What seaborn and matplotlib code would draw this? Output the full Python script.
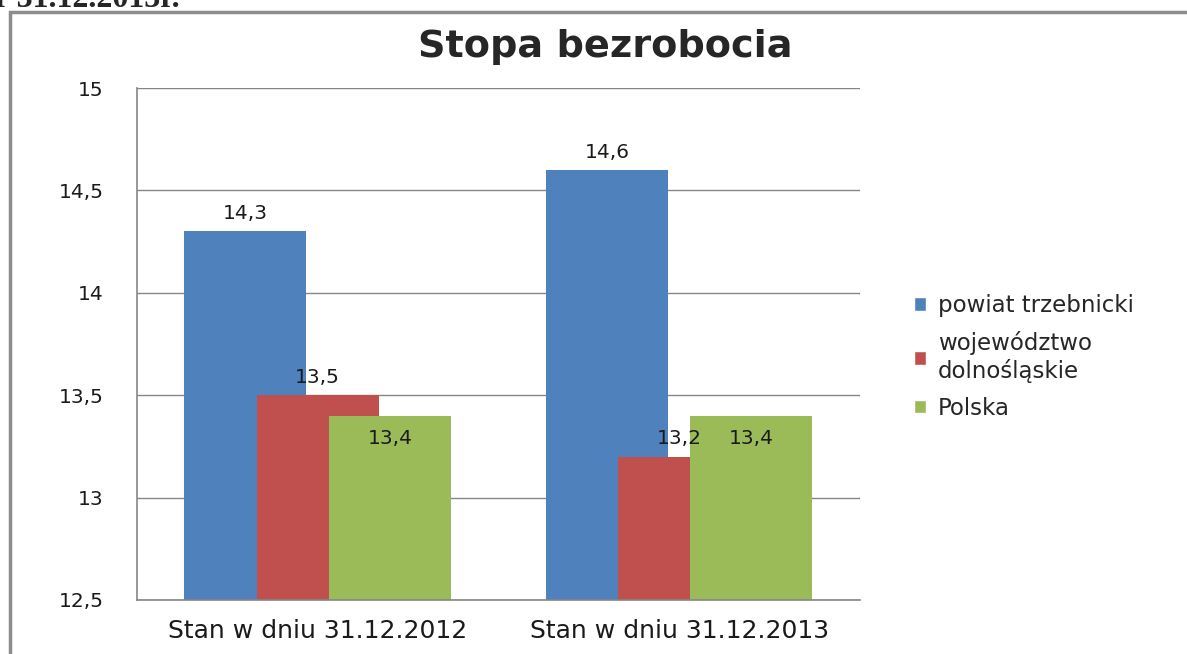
import pandas as pd
import matplotlib
matplotlib.use("Agg")
import matplotlib.pyplot as plt
import seaborn as sns
from matplotlib.patches import Rectangle

# Data
okresy = ["Stan w dniu 31.12.2012", "Stan w dniu 31.12.2013"]
obszary = ["powiat trzebnicki", "województwo\ndolnośląskie", "Polska"]
powiat = [14.3, 14.6]
wojewodztwo = [13.5, 13.2]
polska = [13.4, 13.4]
y_ticks = [12.5, 13, 13.5, 14, 14.5, 15]

kolory = ["#4F81BD", "#C0504D", "#9BBB59"]

df = pd.DataFrame({
    "okres": okresy * 3,
    "obszar": [obszary[0]] * 2 + [obszary[1]] * 2 + [obszary[2]] * 2,
    "stopa": powiat + wojewodztwo + polska,
})

sns.set_style("white")
plt.rcParams["font.family"] = ["DejaVu Sans"]

fig = plt.figure(figsize=(11.87, 6.54), dpi=100)
ax = fig.add_axes([0.1154, 0.0826, 0.609, 0.7828])

sns.barplot(data=df, x="okres", y="stopa", hue="obszar", hue_order=obszary,
            palette=kolory, saturation=1, width=0.6, gap=0, ax=ax)

# Excel-style overlapping bars: widen each bar around its centre
for cont in ax.containers:
    for p in cont:
        c = p.get_x() + p.get_width() / 2
        p.set_width(0.3375)
        p.set_x(c - 0.3375 / 2)
        p.set_edgecolor("none")

for i, cont in enumerate(ax.containers):
    vals = [powiat, wojewodztwo, polska][i]
    labels = [f"{v:.1f}".replace(".", ",") for v in vals]
    pad = -23 if i == 2 else 6
    ax.bar_label(cont, labels=labels, padding=pad, fontsize=14.5, color="#1a1a1a")

ax.set_xlim(-0.5, 1.5)
ax.set_ylim(12.5, 15)
ax.set_yticks(y_ticks)
ax.set_yticklabels([f"{t:g}".replace(".", ",") for t in y_ticks], fontsize=14.5)
ax.set_xticks([0, 1])
ax.set_xticklabels(okresy, fontsize=18)
ax.set_xlabel("")
ax.set_ylabel("")
ax.set_axisbelow(True)
ax.yaxis.grid(True, color="#868686", linewidth=1)
ax.tick_params(axis="y", length=5, width=1, color="#868686", pad=19, labelcolor="#1a1a1a")
ax.tick_params(axis="x", length=0, pad=14, labelcolor="#1a1a1a")
for s in ["top", "right"]:
    ax.spines[s].set_visible(False)
for s in ["left", "bottom"]:
    ax.spines[s].set_color("#868686")
    ax.spines[s].set_linewidth(1.2)

h, l = ax.get_legend_handles_labels()
ax.legend(h, l, loc="upper left", bbox_to_anchor=(0.762, 0.564),
          bbox_transform=fig.transFigure, frameon=False,
          prop={"size": 16.5},
          handlelength=0.55, handleheight=0.55, handletextpad=0.5,
          labelspacing=0.6, borderaxespad=0)

# title and chart frame
fig.text(0.5097, 1 - 47 / 654, "Stopa bezrobocia", ha="center", va="center",
         fontsize=27.5, fontweight="bold")
fig.patches.append(Rectangle((10 / 1187, -0.05), 1.2, 1 - 12 / 654 + 0.05,
                             transform=fig.transFigure, fill=False,
                             edgecolor="#8c8c8c", linewidth=2.5, zorder=-1))
# clipped heading from the document above the chart
fig.text(-0.004, 1 - 7 / 654, "r 31.12.2013r.", ha="left", va="baseline",
         fontsize=23, fontweight="bold", fontfamily="Liberation Serif")

fig.savefig("out.png", dpi=100)
